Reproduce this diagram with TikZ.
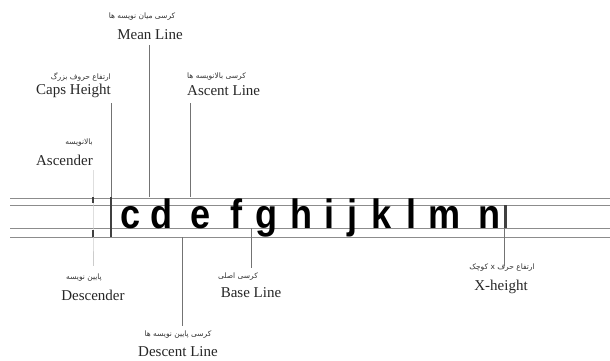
\documentclass[tikz,border=0pt]{standalone}
\usepackage{fontspec}
\usepackage{graphicx}
\setmainfont{Liberation Serif}
\newfontfamily\letterfont{Liberation Sans}
\newfontfamily\fa[Script=Arabic]{DejaVu Sans}
\TeXXeTstate=1
\newcommand{\narrowglyph}[1]{\scalebox{0.88}[1]{#1}}
\begin{document}
\begin{tikzpicture}[x=1pt,y=-1pt,
  guide/.style={draw=black!45,line width=0.7pt},
  leader/.style={draw=black!55,line width=0.5pt},
  faint/.style={draw=black!20,line width=0.5pt},
  bar/.style={draw=black!75,line width=2.4pt},
  glyph/.style={inner sep=0pt,anchor=base,font=\letterfont\bfseries\fontsize{41}{46}\selectfont},
  en/.style={inner sep=0pt,text=black!85,font=\fontsize{15}{17}\selectfont},
  faLab/.style={inner sep=0pt,text=black!80,font=\fa\fontsize{7.5}{9}\selectfont}]
\useasboundingbox (0,0) rectangle (610,361);
% guide lines
\coordinate (aL) at (10,198); \coordinate (aR) at (610,198);
\coordinate (mL) at (10,205); \coordinate (mR) at (610,205);
\coordinate (bL) at (10,228); \coordinate (bR) at (610,228);
\coordinate (dL) at (10,237); \coordinate (dR) at (610,237);
\draw[guide] (aL) -- (aR);
\draw[guide] (mL) -- (mR);
\draw[guide] (bL) -- (bR);
\draw[guide] (dL) -- (dR);
% letters
\foreach \ch/\xx in {c/131,d/162,e/201,f/237,g/267,h/302,i/330,j/353,k/382,l/412,m/445,n/490}
  \node[glyph] (L\ch) at (\xx,228) {\narrowglyph{\ch}};
% labels
\node[faLab] (pMean) at (142,17) {\beginR کرسی میان نویسه ها\endR};
\node[en] (eMean) at (150,35) {Mean Line};
\node[faLab,anchor=east] (pCaps) at (111,77) {\beginR ارتفاع حروف بزرگ\endR};
\node[en,anchor=east] (eCaps) at (111,91) {Caps Height};
\node[faLab,anchor=west] (pAsc) at (187,77) {\beginR کرسی بالانویسه ها\endR};
\node[en,anchor=west] (eAsc) at (187,91) {Ascent Line};
\node[faLab,anchor=east] (pAscender) at (93,143) {\beginR بالانویسه\endR};
\node[en,anchor=east] (eAscender) at (93,160) {Ascender};
\node[faLab] (pDesc) at (84,278) {\beginR پایین نویسه\endR};
\node[en] (eDesc) at (93,295) {Descender};
\node[faLab] (pBase) at (238,277) {\beginR کرسی اصلی\endR};
\node[en] (eBase) at (251,293) {Base Line};
\node[faLab] (pDescL) at (178,335) {\beginR کرسی پایین نویسه ها\endR};
\node[en] (eDescL) at (178,352) {Descent Line};
\node[faLab] (pX) at (502,268) {\beginR ارتفاع حرف \beginL x\endL{} کوچک\endR};
\node[en] (eX) at (501,287) {X-height};
% leader end points
\coordinate (meanTop) at (149,45);  \coordinate (meanBot) at (149,197);
\coordinate (capsTop) at (111,103); \coordinate (capsBot) at (111,197);
\coordinate (ascTop) at (190,103);  \coordinate (ascBot) at (190,197);
\coordinate (asdTop) at (93,170);   \coordinate (asdBot) at (93,237);
\coordinate (dsdBot) at (93,266);
\coordinate (baseTop) at (251,228); \coordinate (baseBot) at (251,268);
\coordinate (dlTop) at (182,237);   \coordinate (dlBot) at (182,326);
\coordinate (xTop) at (504,228);    \coordinate (xBot) at (504,266);
\coordinate (capBarT) at (111,197); \coordinate (capBarB) at (111,237);
\coordinate (xBarT) at (505.5,205); \coordinate (xBarB) at (505.5,228);
\coordinate (mk1T) at (93,197); \coordinate (mk1B) at (93,203);
\coordinate (mk2T) at (93,230); \coordinate (mk2B) at (93,237);
\draw[leader] (meanTop) -- (meanBot);
\draw[leader] (capsTop) -- (capsBot);
\draw[leader] (ascTop) -- (ascBot);
\draw[faint] (asdTop) -- (asdBot) -- (dsdBot);
\draw[leader] (baseTop) -- (baseBot);
\draw[leader] (dlTop) -- (dlBot);
\draw[leader] (xTop) -- (xBot);
\draw[bar] (capBarT) -- (capBarB);
\draw[bar] (xBarT) -- (xBarB);
\draw[bar,line width=2pt] (mk1T) -- (mk1B);
\draw[bar,line width=2pt] (mk2T) -- (mk2B);
\end{tikzpicture}
\end{document}
